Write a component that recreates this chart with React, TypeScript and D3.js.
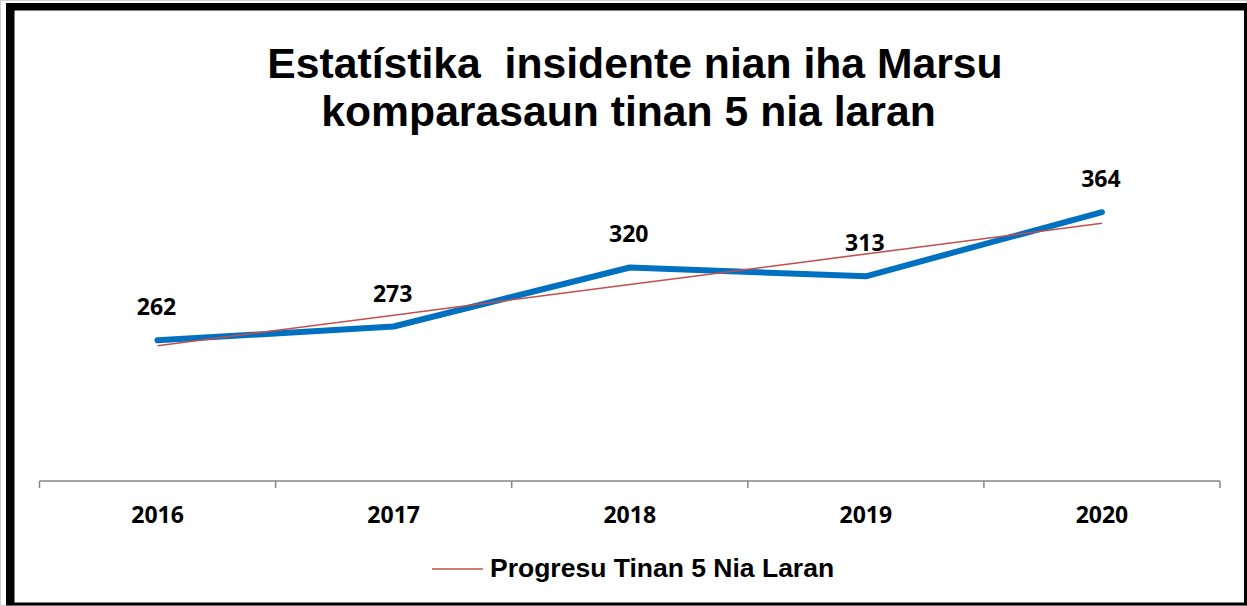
import React from "react";
import * as d3 from "d3";

const years: string[] = ["2016", "2017", "2018", "2019", "2020"];
const incidents: number[] = [262, 273, 320, 313, 364];
const titleLines: string[] = ["Estatístika  insidente nian iha Marsu", "komparasaun tinan 5 nia laran"];
const legendLabel = "Progresu Tinan 5 Nia Laran";
const yDomain: [number, number] = [150, 400];

const W = 1247;
const H = 606;

export default function App() {
  const x = d3.scaleBand<string>().domain(years).range([39.5, 1220]).padding(0);
  const y = d3.scaleLinear().domain(yDomain).range([481, 167]);
  const cx = (yr: string) => (x(yr) as number) + x.bandwidth() / 2;

  // linear trend (least squares) as in spreadsheet trendline
  const idx = years.map((_, i) => i + 1);
  const mx = d3.mean(idx) as number;
  const my = d3.mean(incidents) as number;
  const sxy = d3.sum(idx.map((v, i) => (v - mx) * (incidents[i] - my)));
  const sxx = d3.sum(idx.map((v) => (v - mx) * (v - mx)));
  const slope = sxy / sxx;
  const icpt = my - slope * mx;
  const trend = idx.map((v) => icpt + slope * v);

  const line = d3
    .line<number>()
    .x((_, i) => cx(years[i]))
    .y((d) => y(d));

  const boundaries = d3.range(years.length + 1).map((i) => 39.5 + i * x.bandwidth());

  return (
    <svg
      width={W}
      height={H}
      style={{ position: "absolute", left: 0, top: 0, background: "#fff" }}
    >
      <rect x={0} y={0} width={W} height={H} fill="#fff" />
      {/* frame */}
      <rect x={0.5} y={0.5} width={W - 1} height={H - 1} fill="none" stroke="#d0d0d0" strokeWidth={1} />
      <rect x={6} y={3} width={8.5} height={602} fill="#000" />
      <rect x={6} y={3} width={1241} height={7.5} fill="#000" />
      <rect x={1244} y={3} width={3} height={602} fill="#000" />
      <rect x={6} y={602.5} width={1241} height={3} fill="#000" />

      {/* title */}
      <g fontFamily="'Liberation Sans', Arial, sans-serif" fontWeight={700} fontSize={42.7} fill="#000" textAnchor="middle">
        <text x={635} y={78} style={{ whiteSpace: "pre" }} xmlSpace="preserve">{titleLines[0]}</text>
        <text x={628.5} y={126}>{titleLines[1]}</text>
      </g>

      {/* x axis */}
      <g stroke="#868686" strokeWidth={1.5} fill="none">
        <line x1={39.5} x2={1220} y1={481} y2={481} />
        {boundaries.map((b, i) => (
          <line key={i} x1={b} x2={b} y1={481} y2={488} />
        ))}
      </g>
      <g fontFamily="'Open Sans', sans-serif" fontWeight={700} fontSize={23} fill="#000" textAnchor="middle">
        {years.map((yr) => (
          <text key={yr} x={cx(yr)} y={523}>{yr}</text>
        ))}
      </g>

      {/* series */}
      <path d={line(incidents) || ""} fill="none" stroke="#0070C0" strokeWidth={6} strokeLinecap="round" strokeLinejoin="round" />
      <path d={line(trend) || ""} fill="none" stroke="#C0504D" strokeWidth={1.5} />

      {/* data labels */}
      <g fontFamily="'Open Sans', sans-serif" fontWeight={700} fontSize={23} fill="#000" textAnchor="middle">
        {incidents.map((v, i) => (
          <text key={i} x={cx(years[i]) - 1} y={y(v) - 25}>{v}</text>
        ))}
      </g>

      {/* legend */}
      <line x1={432} x2={483} y1={569} y2={569} stroke="#C0504D" strokeWidth={1.5} />
      <text x={490} y={577} fontFamily="'Liberation Sans', Arial, sans-serif" fontWeight={700} fontSize={26.5} fill="#000">
        {legendLabel}
      </text>
    </svg>
  );
}
